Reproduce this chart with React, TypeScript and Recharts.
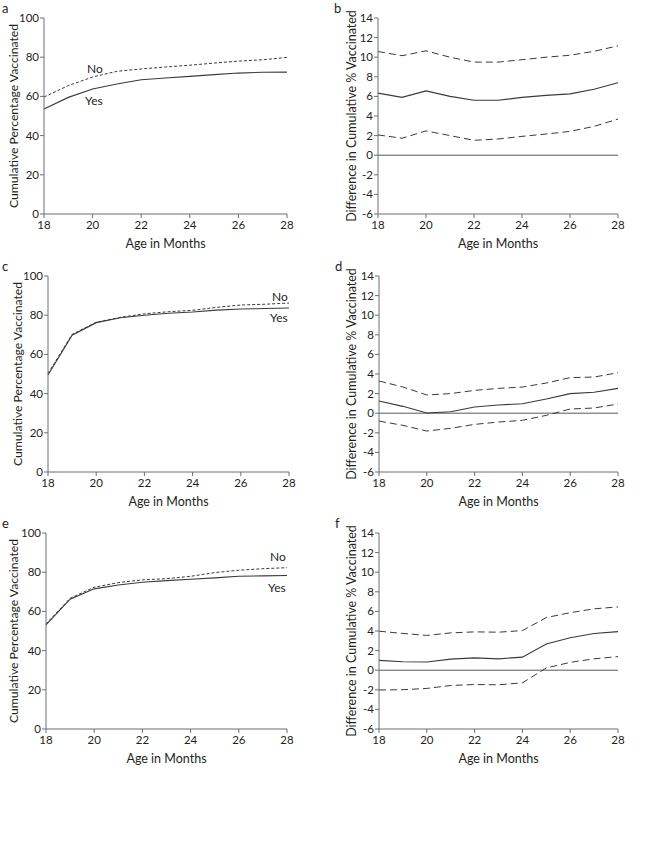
import React from 'react';
import { LineChart, Line, XAxis, YAxis, ReferenceLine } from 'recharts';

// Age in months (x values shared by every panel)
const months = [18, 19, 20, 21, 22, 23, 24, 25, 26, 27, 28];
const monthTicks = [18, 20, 22, 24, 26, 28];
const pctTicks = [0, 20, 40, 60, 80, 100];
const diffTicks = [-6, -4, -2, 0, 2, 4, 6, 8, 10, 12, 14];

// Panel a
const aYes = [53.6, 59.5, 63.8, 66.3, 68.5, 69.4, 70.2, 71.1, 71.9, 72.3, 72.4];
const aNo = [59.7, 65.5, 69.9, 72.8, 74.0, 75.0, 75.9, 77.0, 78.0, 78.7, 79.9];
// Panel b
const bDiff = [6.33, 5.9, 6.56, 6.0, 5.6, 5.6, 5.9, 6.1, 6.26, 6.73, 7.4];
const bUpper = [10.58, 10.15, 10.65, 10.0, 9.5, 9.5, 9.74, 10.0, 10.2, 10.6, 11.16];
const bLower = [2.07, 1.73, 2.48, 2.0, 1.52, 1.65, 1.92, 2.16, 2.43, 2.94, 3.69];
// Panel c
const cYes = [49.5, 69.8, 76.2, 78.7, 80.0, 81.0, 81.6, 82.6, 83.2, 83.4, 83.7];
const cNo = [50.3, 70.2, 76.4, 78.9, 80.7, 81.8, 82.5, 84.0, 85.2, 85.6, 86.2];
// Panel d
const dDiff = [1.25, 0.7, 0.02, 0.15, 0.63, 0.83, 0.97, 1.45, 2.0, 2.13, 2.53];
const dUpper = [3.29, 2.67, 1.86, 2.0, 2.33, 2.53, 2.67, 3.08, 3.63, 3.69, 4.13];
const dLower = [-0.8, -1.24, -1.82, -1.54, -1.14, -0.9, -0.73, -0.22, 0.43, 0.53, 0.94];
// Panel e
const eYes = [53.1, 66.2, 71.5, 73.5, 74.9, 75.7, 76.4, 77.1, 77.9, 78.1, 78.3];
const eNo = [53.6, 66.7, 72.3, 74.7, 76.1, 76.7, 77.9, 79.8, 81.0, 81.8, 82.3];
// Panel f
const fDiff = [1.0, 0.86, 0.83, 1.13, 1.26, 1.16, 1.33, 2.68, 3.31, 3.75, 3.94];
const fUpper = [3.98, 3.75, 3.55, 3.81, 3.91, 3.88, 4.04, 5.37, 5.87, 6.26, 6.46];
const fLower = [-2.02, -1.99, -1.86, -1.56, -1.46, -1.49, -1.29, 0.23, 0.8, 1.16, 1.39];

const FONT = 'Lato, "Open Sans", sans-serif';
const INK = '#231f20';
const AXIS = '#6d6e71';
const LINE = '#3a3a3a';

const tickStyle = { fontSize: 11.5, fill: INK, fontFamily: FONT };
const xTitleStyle = { fontSize: 12.5, fill: INK, fontFamily: FONT, textAnchor: 'middle' as const };

interface PanelProps {
  left: number;
  top: number;
  width: number;
  yWidth: number;
  labelOffset: number;
  letter: string;
  letterX: number;
  kind: 'pct' | 'diff';
  a: number[];
  b: number[];
  c?: number[];
}

const Panel: React.FC<PanelProps> = ({ left, top, width, yWidth, labelOffset, letter, letterX, kind, a, b, c }) => {
  const data = months.map((m, i) => ({ month: m, a: a[i], b: b[i], c: c ? c[i] : undefined }));
  const isPct = kind === 'pct';
  const plotRight = width - (isPct ? 33 : 29);
  return (
    <div style={{ position: 'absolute', left, top, width, height: 250 }}>
      <div style={{ position: 'absolute', left: letterX, top: 1, fontFamily: FONT, fontSize: 13, lineHeight: '14px', color: INK }}>
        {letter}
      </div>
      <LineChart
        width={width}
        height={250}
        data={data}
        margin={{ top: 18, right: width - plotRight, left: 0, bottom: 2 }}
      >
        <XAxis
          type="number"
          dataKey="month"
          domain={[18, 28]}
          ticks={monthTicks}
          height={34}
          tick={tickStyle}
          tickSize={4}
          tickMargin={3}
          stroke={AXIS}
          label={{ value: 'Age in Months', position: 'insideBottom', offset: 0, style: xTitleStyle }}
        />
        <YAxis
          type="number"
          domain={isPct ? [0, 100] : [-6, 14]}
          ticks={isPct ? pctTicks : diffTicks}
          width={yWidth}
          tick={tickStyle}
          tickSize={4}
          tickMargin={1}
          stroke={AXIS}
          interval={0}
          label={{
            value: isPct ? 'Cumulative Percentage Vaccinated' : 'Difference in Cumulative % Vaccinated',
            angle: -90,
            position: 'insideLeft',
            offset: labelOffset,
            style: { fontSize: isPct ? 12.2 : 12.5, fill: INK, fontFamily: FONT, textAnchor: 'middle' },
          }}
        />
        {!isPct && <ReferenceLine y={0} stroke="#58595b" strokeWidth={1} />}
        {isPct ? (
          <>
            <Line dataKey="a" type="linear" stroke={LINE} strokeWidth={1.1} dot={false} isAnimationActive={false} />
            <Line dataKey="b" type="linear" stroke={LINE} strokeWidth={1} strokeDasharray="3 2" dot={false} isAnimationActive={false} />
          </>
        ) : (
          <>
            <Line dataKey="a" type="linear" stroke={LINE} strokeWidth={1.1} dot={false} isAnimationActive={false} />
            <Line dataKey="b" type="linear" stroke={LINE} strokeWidth={1} strokeDasharray="7 4" dot={false} isAnimationActive={false} />
            <Line dataKey="c" type="linear" stroke={LINE} strokeWidth={1} strokeDasharray="7 4" dot={false} isAnimationActive={false} />
          </>
        )}
      </LineChart>
    </div>
  );
};

const Note: React.FC<{ x: number; y: number; text: string }> = ({ x, y, text }) => (
  <div style={{ position: 'absolute', left: x, top: y, fontFamily: FONT, fontSize: 12, color: INK, lineHeight: '14px' }}>
    {text}
  </div>
);

export default function App() {
  return (
    <div style={{ position: 'absolute', left: 0, top: 0, width: 647, height: 853, background: '#fff' }}>
      <Panel left={0} top={0} width={320} yWidth={44} labelOffset={14} letter="a" letterX={2} kind="pct" a={aYes} b={aNo} />
      <Panel left={320} top={0} width={327} yWidth={58} labelOffset={32} letter="b" letterX={14} kind="diff" a={bDiff} b={bUpper} c={bLower} />
      <Panel left={0} top={258} width={322} yWidth={48} labelOffset={18} letter="c" letterX={2} kind="pct" a={cYes} b={cNo} />
      <Panel left={320} top={258} width={327} yWidth={59} labelOffset={32} letter="d" letterX={15} kind="diff" a={dDiff} b={dUpper} c={dLower} />
      <Panel left={0} top={515} width={320} yWidth={46} labelOffset={14} letter="e" letterX={2} kind="pct" a={eYes} b={eNo} />
      <Panel left={320} top={515} width={327} yWidth={59} labelOffset={32} letter="f" letterX={15} kind="diff" a={fDiff} b={fUpper} c={fLower} />
      <Note x={87} y={62} text="No" />
      <Note x={85} y={94} text="Yes" />
      <Note x={272} y={290} text="No" />
      <Note x={270} y={311} text="Yes" />
      <Note x={270} y={550} text="No" />
      <Note x={268} y={581} text="Yes" />
    </div>
  );
}
